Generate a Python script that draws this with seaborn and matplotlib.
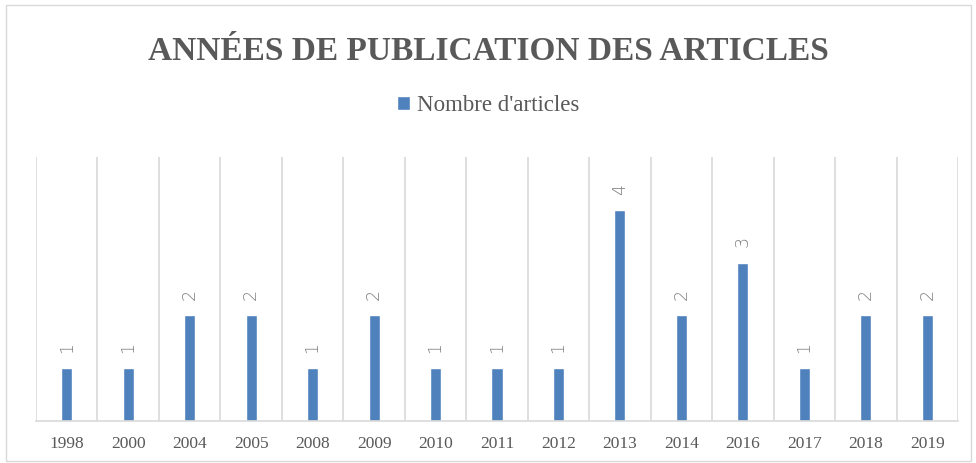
import matplotlib
matplotlib.use("Agg")
import matplotlib.pyplot as plt
import seaborn as sns
import pandas as pd
from matplotlib.patches import Rectangle

years = ["1998", "2000", "2004", "2005", "2008", "2009", "2010", "2011",
         "2012", "2013", "2014", "2016", "2017", "2018", "2019"]
counts = [1, 1, 2, 2, 1, 2, 1, 1, 1, 4, 2, 3, 1, 2, 2]
series_name = "Nombre d'articles"
title = "ANNÉES DE PUBLICATION DES ARTICLES"

df = pd.DataFrame({"annee": years, "n": counts})

sns.set_style("white")
plt.rcParams["font.family"] = ["Liberation Serif", "DejaVu Serif"]

bar_color = "#4F81BD"
grid_color = "#D9D9D9"
text_gray = "#595959"

fig = plt.figure(figsize=(9.76, 4.63), dpi=100)
ax = fig.add_axes([36 / 976, 42 / 463, 922 / 976, 264 / 463])

sns.barplot(data=df, x="annee", y="n", color=bar_color, width=0.18,
            saturation=1, ax=ax, label=series_name)

# vertical gridlines at category boundaries
for i in range(len(years) + 1):
    ax.axvline(i - 0.5, color=grid_color, lw=1.2, zorder=0)

ax.set_xlim(-0.5, len(years) - 0.5)
ax.set_ylim(0, 5)
ax.set_yticks([])
ax.set_xlabel("")
ax.set_ylabel("")
for s in ["top", "right", "left"]:
    ax.spines[s].set_visible(False)
ax.spines["bottom"].set_color(grid_color)
ax.spines["bottom"].set_linewidth(1.2)
ax.tick_params(axis="x", length=0, pad=11, labelsize=12.5, colors=text_gray)

for i, v in enumerate(counts):
    ax.annotate(str(v), (i, v), xytext=(0, 11), textcoords="offset points",
                rotation=90, ha="center", va="bottom", fontsize=12.5,
                color="#7F7F7F", family="DejaVu Sans", fontweight="light")

fig.text(0.5, 0.888, title, ha="center", va="center", fontsize=24,
         fontweight="bold", color=text_gray)

leg = fig.legend(*ax.get_legend_handles_labels(), loc="center",
                 bbox_to_anchor=(0.5, 0.772), frameon=False, fontsize=16.5,
                 handlelength=0.6, handleheight=0.6, handletextpad=0.3)
for t in leg.get_texts():
    t.set_color(text_gray)
if ax.get_legend() is not None:
    ax.get_legend().remove()

# chart border
fig.patches.append(Rectangle((6 / 976, 2 / 463), 965 / 976, 456 / 463,
                             transform=fig.transFigure, fill=False,
                             edgecolor=grid_color, lw=1))

fig.savefig("out.png", dpi=100)
